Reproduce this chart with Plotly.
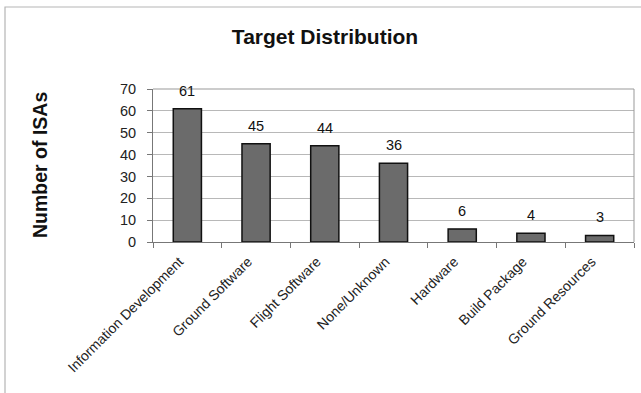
import plotly.graph_objects as go

# Target categories and number of ISAs in each
categories = [
    "Information Development",
    "Ground Software",
    "Flight Software",
    "None/Unknown",
    "Hardware",
    "Build Package",
    "Ground Resources",
]
counts = [61, 45, 44, 36, 6, 4, 3]
y_ticks = [0, 10, 20, 30, 40, 50, 60, 70]

FONT = "Liberation Sans, Arial, sans-serif"
W, H = 641, 393
ML, MR, MT, MB = 153, 7, 89, 151
pw, ph = W - ML - MR, H - MT - MB

fig = go.Figure(
    go.Bar(
        x=categories,
        y=counts,
        width=0.41,
        marker=dict(color="#6b6b6b", line=dict(color="#111111", width=1.5)),
        hoverinfo="x+y",
    )
)

# value labels above each bar
for c, v in zip(categories, counts):
    fig.add_annotation(
        x=c, y=v, text=str(v), showarrow=False, yanchor="bottom", yshift=8,
        font=dict(family=FONT, size=14.5, color="#111111"),
    )

# light outer frame around the whole chart
def px_to_paper_x(px):
    return (px - ML) / pw

def py_to_paper_y(py):
    return (H - MB - py) / ph

fig.add_shape(
    type="rect", xref="paper", yref="paper",
    x0=px_to_paper_x(5), x1=px_to_paper_x(W + 10),
    y0=py_to_paper_y(H + 10), y1=py_to_paper_y(7),
    line=dict(color="#b5b5b5", width=1.2), fillcolor="rgba(0,0,0,0)", layer="below",
)

fig.update_layout(
    width=W, height=H,
    margin=dict(l=ML, r=MR, t=MT, b=MB),
    paper_bgcolor="white", plot_bgcolor="white",
    showlegend=False,
    font=dict(family=FONT, color="#111111"),
    title=dict(
        text="<b>Target Distribution</b>",
        x=(325) / W, xanchor="center", y=1 - 37 / H, yanchor="middle",
        font=dict(family=FONT, size=21, color="#111111"),
    ),
    xaxis=dict(
        type="category",
        tickangle=-45,
        tickfont=dict(family=FONT, size=14, color="#222222"),
        ticks="outside", ticklen=5, tickcolor="#777777",
        tickson="boundaries",
        ticklabelshift=-8, ticklabelstandoff=5,
        showline=True, linecolor="#777777", linewidth=1,
        mirror=False, showgrid=False,
    ),
    yaxis=dict(
        range=[0, 70],
        tickvals=y_ticks,
        tickfont=dict(family=FONT, size=14.5, color="#222222"),
        ticks="outside", ticklen=5, tickcolor="#777777",
        ticklabelstandoff=8,
        showline=True, linecolor="#777777", linewidth=1,
        showgrid=True, gridcolor="#b8b8b8", gridwidth=1,
        zeroline=False,
    ),
    shapes=list(fig.layout.shapes) + [
        dict(type="line", xref="paper", yref="paper", x0=0, x1=1, y0=1, y1=1,
             line=dict(color="#999999", width=1)),
        dict(type="line", xref="paper", yref="paper", x0=1, x1=1, y0=0, y1=1,
             line=dict(color="#999999", width=1)),
    ],
)

fig.add_annotation(
    text="<b>Number of ISAs</b>", xref="paper", yref="paper",
    x=px_to_paper_x(40), y=py_to_paper_y(165), textangle=-90, showarrow=False,
    xanchor="center", yanchor="middle",
    font=dict(family=FONT, size=19.5, color="#111111"),
)

fig.write_html("out.html")
